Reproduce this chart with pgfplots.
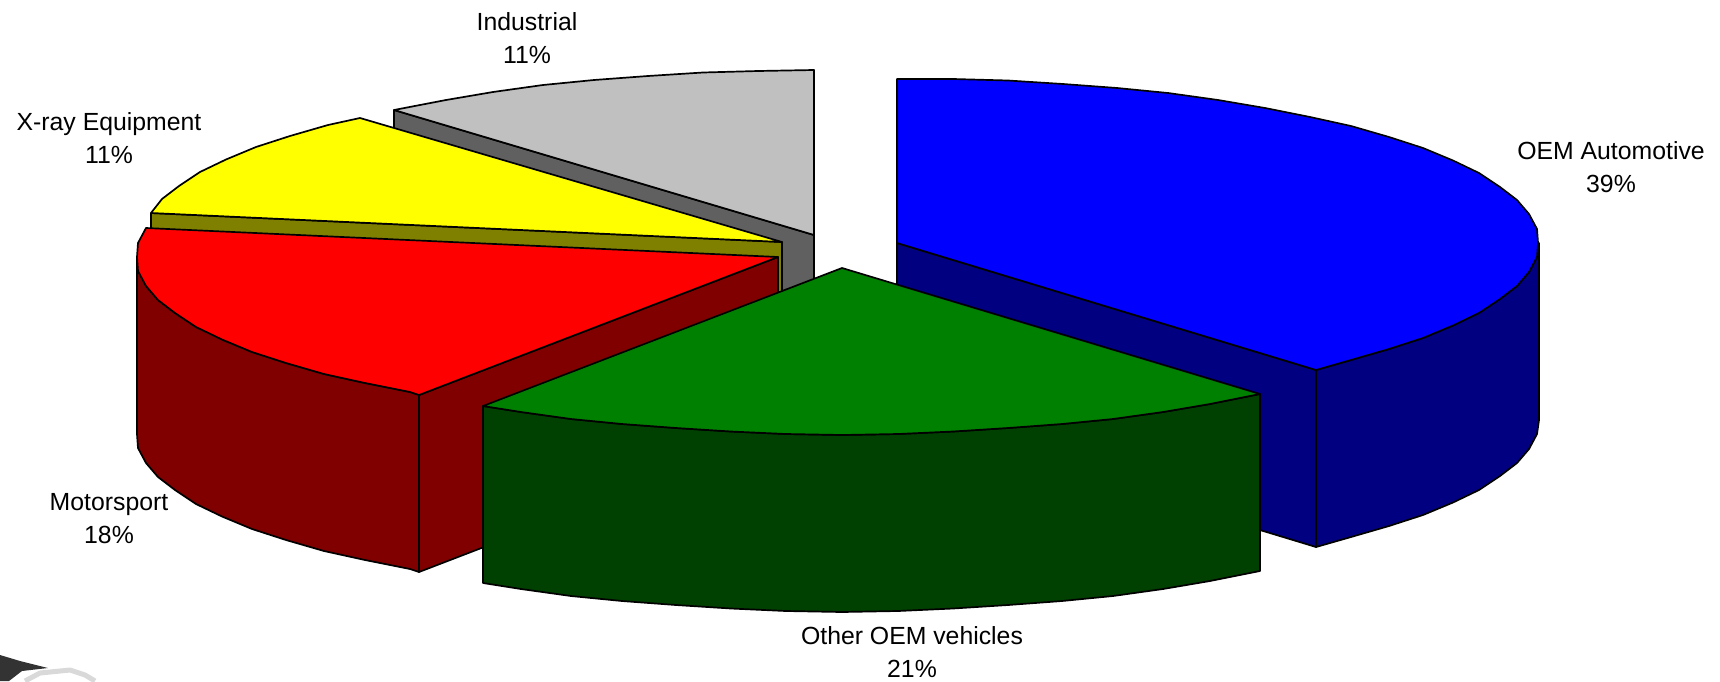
\documentclass[border=0pt]{standalone}
\usepackage{pgfplots}
\pgfplotsset{compat=1.18}
\usepackage{fontspec}
\setmainfont{Liberation Sans}
\definecolor{cBlue}{HTML}{0000FF}
\definecolor{cNavy}{HTML}{000080}
\definecolor{cGreen}{HTML}{008000}
\definecolor{cDGreen}{HTML}{004000}
\definecolor{cRed}{HTML}{FF0000}
\definecolor{cDRed}{HTML}{800000}
\definecolor{cYellow}{HTML}{FFFF00}
\definecolor{cOlive}{HTML}{808000}
\definecolor{cGray}{HTML}{C0C0C0}
\definecolor{cDGray}{HTML}{606060}
\tikzset{lab/.style={align=center, font=\fontsize{24.8}{33}\selectfont, inner sep=0pt}}
\begin{document}
\begin{tikzpicture}
\path[use as bounding box] (0,0) rectangle (1720pt,681pt);
\begin{axis}[
  anchor=south west, at={(0,0)},
  scale only axis, width=1720pt, height=681pt,
  xmin=0, xmax=1720, ymin=0, ymax=681, y dir=reverse,
  hide axis, clip=true,
  every axis plot/.append style={line width=1.7pt, line join=round, mark=none},
]
% photo fragment, bottom-left corner
\addplot[fill=black!80, draw=none] coordinates {(0,655)(20,661)(48,668)(22,671)(9,681)(0,681)} -- cycle;
\addplot[draw=black!15, line width=5pt] coordinates {(25,681)(40,673)(70,670)(85,675)(95,681)};
% Industrial
\addplot[fill=cDGray, draw=black] coordinates {(394,110)(814,235)(814,412)(394,287)} -- cycle;
\addplot[fill=cGray, draw=black] coordinates {(814,235)(394,110)(446,100)(493,92)(543,85)(594,80)(648,76)(703,72.5)(758,71)(814,70)} -- cycle;
% X-ray
\addplot[fill=cOlive, draw=black] coordinates {(151,213)(782,242)(782,419)(151,390)} -- cycle;
\addplot[fill=cYellow, draw=black] coordinates {(782,242)(151,213)(162,199)(179,186)(200,172)(226,159.5)(256,147)(290,136)(328,125)(360,118)} -- cycle;
% Motorsport
\addplot[fill=cDRed, draw=black] coordinates {(778,257)(419,395)(419,572)(778,434)} -- cycle;
\addplot[fill=cDRed, draw=black] coordinates {(137,257)(138,271)(146,286)(158,300)(175,313)(196,327)(222,339.5)(252,352)(286,363)(324,374)(365,383)(410,392)(419,395)(419,572)(410,569)(365,560)(324,551)(286,540)(252,529)(222,516.5)(196,504)(175,490)(158,477)(146,463)(138,448)(137,434)} -- cycle;
\addplot[fill=cRed, draw=black] coordinates {(778,257)(146,228)(138,243)(137,257)(138,271)(146,286)(158,300)(175,313)(196,327)(222,339.5)(252,352)(286,363)(324,374)(365,383)(410,392)(419,395)} -- cycle;
% OEM Automotive
\addplot[fill=cNavy, draw=black] coordinates {(897,243)(1316,370)(1316,547)(897,420)} -- cycle;
\addplot[fill=cNavy, draw=black] coordinates {(1539,243)(1537,257)(1529,272)(1517,286)(1500,299)(1479,313)(1453,325.5)(1423,338)(1389,349)(1351,360)(1316,370)(1316,547)(1351,537)(1389,526)(1423,515)(1453,502.5)(1479,490)(1500,476)(1517,463)(1529,449)(1537,434)(1539,420)} -- cycle;
\addplot[fill=cBlue, draw=black] coordinates {(897,243)(897,79)(953,79)(1008,80.5)(1063,84)(1117,88)(1168,93)(1218,100)(1265,108)(1310,117)(1351,126)(1389,137)(1423,148)(1453,160.5)(1479,173)(1500,187)(1517,200)(1529,214)(1537,229)(1538,243)(1537,257)(1529,272)(1517,286)(1500,299)(1479,313)(1453,325.5)(1423,338)(1389,349)(1351,360)(1316,370)} -- cycle;
% Other OEM vehicles
\addplot[fill=cDGreen, draw=black] coordinates {(483,406)(521,412)(571,419)(622,424)(676,428)(731,431.5)(786,434)(842,435)(898,434)(953,431.5)(1008,428)(1062,424)(1113,419)(1163,412)(1210,404)(1260,394)(1260,571)(1210,581)(1163,589)(1113,596)(1062,601)(1008,605)(953,608.5)(898,611)(842,612)(786,611)(731,608.5)(676,605)(622,601)(571,596)(521,589)(483,583)} -- cycle;
\addplot[fill=cGreen, draw=black] coordinates {(842,268)(483,406)(521,412)(571,419)(622,424)(676,428)(731,431.5)(786,434)(842,435)(898,434)(953,431.5)(1008,428)(1062,424)(1113,419)(1163,412)(1210,404)(1260,394)} -- cycle;
% labels
\node[lab] at (axis cs:527,38) {Industrial\\11\%};
\node[lab] at (axis cs:109,138) {X-ray Equipment\\11\%};
\node[lab] at (axis cs:1611,167) {OEM Automotive\\39\%};
\node[lab] at (axis cs:109,519) {Motorsport\\18\%};
\node[lab] at (axis cs:912,652) {Other OEM vehicles\\21\%};
\end{axis}
\end{tikzpicture}
\end{document}
